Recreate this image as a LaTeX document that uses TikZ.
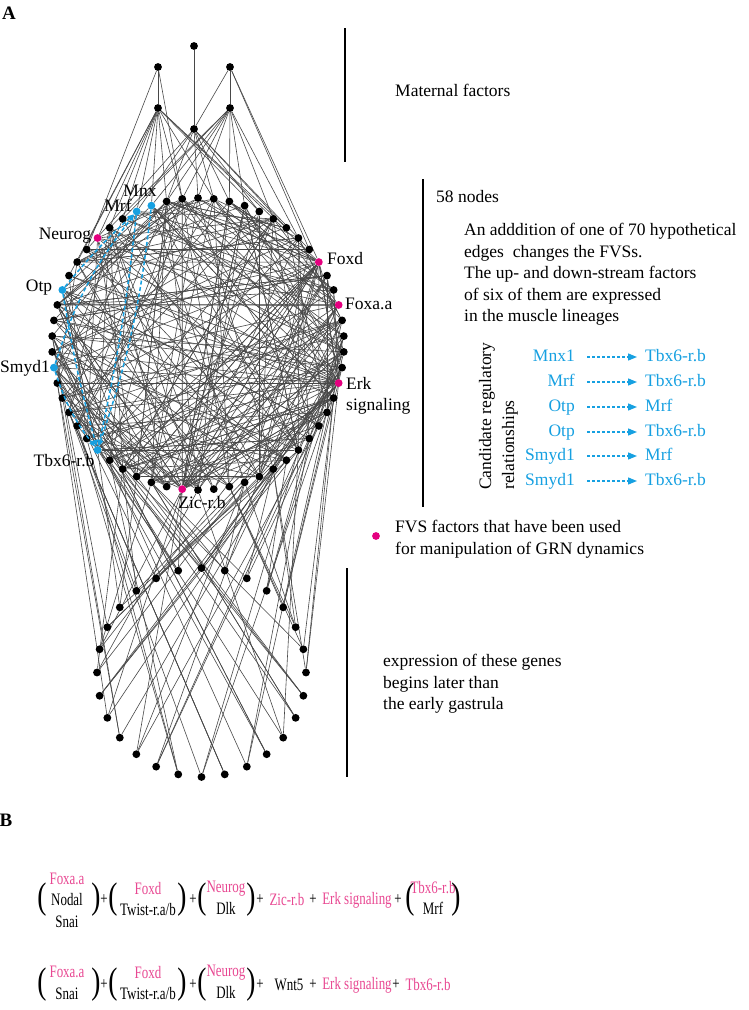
\documentclass[tikz,border=0pt]{standalone}
\usepackage{fontspec}
\setmainfont{Liberation Serif}
\usetikzlibrary{arrows.meta}
\pgfdeclarelayer{bg}
\pgfsetlayers{bg,main}
\definecolor{edgecol}{RGB}{72,72,72}
\definecolor{fvs}{RGB}{228,0,127}
\definecolor{fvstext}{RGB}{232,72,146}
\definecolor{cblue}{RGB}{22,160,225}
\newcommand\bsq[1]{\scalebox{0.74}[1]{#1}}
\newcommand\bpk[1]{\scalebox{0.74}[1]{\textcolor{fvstext}{#1}}}
\begin{document}
\begin{tikzpicture}[x=1pt,y=-1pt,
  dot/.style={circle,fill=black,inner sep=0pt,minimum size=7.8pt},
  fvsdot/.style={dot,fill=fvs},
  bluedot/.style={dot,fill=cblue},
  gedge/.style={draw=edgecol,line width=0.6pt},
  cand/.style={draw=cblue,line width=1.5pt,dash pattern=on 4pt off 2.5pt,-{Triangle[length=6pt,width=5pt]}},
  legarr/.style={draw=cblue,line width=1.3pt,dash pattern=on 3pt off 2pt,-{Triangle[length=9pt,width=7pt]},shorten <=12pt,shorten >=8pt},
  lbl/.style={font=\fontsize{17.5}{21.5}\selectfont,inner sep=0pt},
  legtxt/.style={lbl,text=cblue,text height=12pt,text depth=4pt},
  bar/.style={line width=2pt},
  bt/.style={inner sep=0pt,font=\fontsize{17.5}{21.5}\selectfont,align=center},
  bp/.style={bt,text=fvstext},
  bparen/.style={inner sep=0pt,font=\fontsize{37}{37}\selectfont},
]
\path[use as bounding box] (0,0) rectangle (749,1010);

% panel labels
\node[inner sep=0pt,font=\fontsize{19}{19}\selectfont\bfseries] (pA) at (9,13.5) {A};
\node[inner sep=0pt,font=\fontsize{19}{19}\selectfont\bfseries] (pB) at (6,820) {B};

% maternal nodes
\node[dot] (m1) at (194,46) {};
\node[dot] (m2) at (158,67) {};
\node[dot] (m3) at (230,67) {};
\node[dot] (m4) at (158,108) {};
\node[dot] (m5) at (230,108) {};
\node[dot] (m6) at (194,129) {};

% ring of 58 nodes
\foreach \k in {0,1,2,5,6,8,9,10,12,13,14,15,17,18,19,20,21,23,24,25,26,27,29,30,31,32,33,34,35,36,37,38,39,40,42,43,44,45,47,48,50,51,52,53,54,55,56,57}{
  \node[dot] (r\k) at ({198+146*cos(90+\k*6.206897)},{344-146*sin(90+\k*6.206897)}) {};
}
\foreach \k/\s in {3/bluedot,4/bluedot,11/bluedot,16/bluedot,22/bluedot,7/fvsdot,28/fvsdot,41/fvsdot,46/fvsdot,49/fvsdot}{
  \node[\s] (r\k) at ({198+146*cos(90+\k*6.206897)},{344-146*sin(90+\k*6.206897)}) {};
}

% lower ring
\foreach \k in {0,...,27}{
  \node[dot] (l\k) at ({201.5+104.5*cos(90+\k*12.857143)},{672.5-104.5*sin(90+\k*12.857143)}) {};
}

% edges
\begin{pgfonlayer}{bg}
\pgfmathsetseed{2024}
\foreach \i in {1,...,160}{
  \pgfmathtruncatemacro\qa{random(0,57)}
  \pgfmathtruncatemacro\qb{mod(\qa+random(6,52),58)}
  \draw[gedge] (r\qa) -- (r\qb);
}
\foreach \h/\n in {49/16,41/18,28/16,12/10,9/8,46/9,22/6,2/5,33/5,19/5}{
  \foreach \i in {1,...,\n}{
    \pgfmathtruncatemacro\qb{mod(\h+random(8,50),58)}
    \draw[gedge] (r\h) -- (r\qb);
  }
}
\foreach \k in {0,...,27}{
  \foreach \i in {1,2,3}{
    \pgfmathtruncatemacro\qb{random(14,44)}
    \draw[gedge] (l\k) -- (r\qb);
  }
}
\draw[gedge] (m1) -- (m6);
\draw[gedge] (m6) -- (r0);
\draw[gedge] (m2) -- (m4);
\draw[gedge] (m2) -- (r1);
\draw[gedge] (m2) -- (r8);
\draw[gedge] (m3) -- (m5);
\draw[gedge] (m3) -- (m6);
\draw[gedge] (m3) -- (r49);
\draw[gedge] (m3) -- (r50);
\foreach \t in {7,5,4,3,2,1,57,54,49,9,10,52,6}{\draw[gedge] (m4) -- (r\t);}
\foreach \t in {3,2,1,0,56,55,53,51,6,5}{\draw[gedge] (m5) -- (r\t);}
\foreach \t in {2,57,56,54,52,4,8,50}{\draw[gedge] (m6) -- (r\t);}
\end{pgfonlayer}

% candidate arrows in network
\draw[cand] (r3) to[bend left=6] (r22);
\draw[cand] (r4) to[bend left=3] (r22);
\draw[cand] (r11) to[bend left=4] (r4);
\draw[cand] (r11) to[bend right=3] (r22);
\draw[cand] (r16) to[bend left=10] (r4);
\draw[cand] (r16) to[bend right=10] (r22);

% node labels
\node[lbl] (tmnx) at (140,191) {Mnx};
\node[lbl] (tmrf) at (118,205) {Mrf};
\node[lbl] (tneu) at (65,236) {Neurog};
\node[lbl] (totp) at (39,288) {Otp};
\node[lbl] (tsmy) at (25,368) {Smyd1};
\node[lbl] (ttbx) at (64,461) {Tbx6-r.b};
\node[lbl] (tzic) at (202,503) {Zic-r.b};
\node[lbl,anchor=west] (tfoxd) at (327,259) {Foxd};
\node[lbl,anchor=west] (tfoxa) at (345,304) {Foxa.a};
\node[lbl,anchor=north west,align=left] (terk) at (346,377) {Erk\\signaling};

% bars
\draw[bar] (345,28) -- (345,162);
\draw[bar] (423,179) -- (423,507);
\draw[bar] (347,568) -- (347,777);

% right texts
\node[lbl,anchor=west] (tmat) at (395,90) {Maternal factors};
\node[lbl,anchor=west] (t58) at (436,197) {58 nodes};
\node[lbl,anchor=north west,align=left] (tadd) at (464,223) {An adddition of one of 70 hypothetical\\edges\ \ changes the FVSs.\\The up- and down-stream factors\\of six of them are expressed\\in the muscle lineages};

\node[lbl,rotate=90,anchor=west] (tcand1) at (487,490) {Candidate regulatory};
\node[lbl,rotate=90,anchor=west] (tcand2) at (510,490) {relationships};

\foreach \i/\y/\a/\b in {1/357/Mnx1/Tbx6-r.b,2/382/Mrf/Tbx6-r.b,3/407/Otp/Mrf,4/432/Otp/Tbx6-r.b,5/456/Smyd1/Mrf,6/481/Smyd1/Tbx6-r.b}{
  \node[legtxt,anchor=east] (ca\i) at (575,\y) {\a};
  \node[legtxt,anchor=west] (cb\i) at (645,\y) {\b};
  \draw[legarr] (ca\i) -- (cb\i);
}

\node[fvsdot] (legdot) at (376,536) {};
\node[lbl,anchor=north west,align=left] (tleg) at (395,520) {FVS factors that have been used\\for manipulation of GRN dynamics};

\node[lbl,anchor=north west,align=left] (texp) at (383,654) {expression of these genes\\begins later than\\the early gastrula};

% Panel B row 1
\node[bparen] (a1) at (42,900) {\bsq{(}};
\node[bt] (a2) at (67,900) {\bpk{Foxa.a}\\\bsq{Nodal}\\\bsq{Snai}};
\node[bparen] (a5) at (96,900) {\bsq{)}};
\node[bt] (a6) at (104,900) {\bsq{+}};
\node[bparen] (a7) at (113,900) {\bsq{(}};
\node[bt] (a8) at (148,899) {\bpk{Foxd}\\\bsq{Twist-r.a/b}};
\node[bparen] (a10) at (182,900) {\bsq{)}};
\node[bt] (a11) at (193,900) {\bsq{+}};
\node[bparen] (a12) at (202,900) {\bsq{(}};
\node[bt] (a13) at (226,898) {\bpk{Neurog}\\\bsq{Dlk}};
\node[bparen] (a15) at (251,900) {\bsq{)}};
\node[bt] (a16) at (260,900) {\bsq{+}};
\node[bp] (a17) at (287,900) {\bsq{Zic-r.b}};
\node[bt] (a18) at (313,900) {\bsq{+}};
\node[bp] (a19) at (357,900) {\bsq{Erk signaling}};
\node[bt] (a20) at (398,900) {\bsq{+}};
\node[bparen] (a21) at (410,900) {\bsq{(}};
\node[bt] (a22) at (433,898) {\bpk{Tbx6-r.b}\\\bsq{Mrf}};
\node[bparen] (a24) at (456,900) {\bsq{)}};

% Panel B row 2
\node[bparen] (c1) at (42,985) {\bsq{(}};
\node[bt] (c2) at (67,983) {\bpk{Foxa.a}\\\bsq{Snai}};
\node[bparen] (c4) at (96,985) {\bsq{)}};
\node[bt] (c5) at (104,985) {\bsq{+}};
\node[bparen] (c6) at (113,985) {\bsq{(}};
\node[bt] (c7) at (148,983) {\bpk{Foxd}\\\bsq{Twist-r.a/b}};
\node[bparen] (c9) at (182,985) {\bsq{)}};
\node[bt] (c10) at (193,985) {\bsq{+}};
\node[bparen] (c11) at (202,985) {\bsq{(}};
\node[bt] (c12) at (226,982) {\bpk{Neurog}\\\bsq{Dlk}};
\node[bparen] (c14) at (251,985) {\bsq{)}};
\node[bt] (c15) at (260,985) {\bsq{+}};
\node[bt] (c16) at (289,985) {\bsq{Wnt5}};
\node[bt] (c17) at (313,985) {\bsq{+}};
\node[bp] (c18) at (357,985) {\bsq{Erk signaling}};
\node[bt] (c19) at (396,985) {\bsq{+}};
\node[bp] (c20) at (428,985) {\bsq{Tbx6-r.b}};
\end{tikzpicture}
\end{document}
